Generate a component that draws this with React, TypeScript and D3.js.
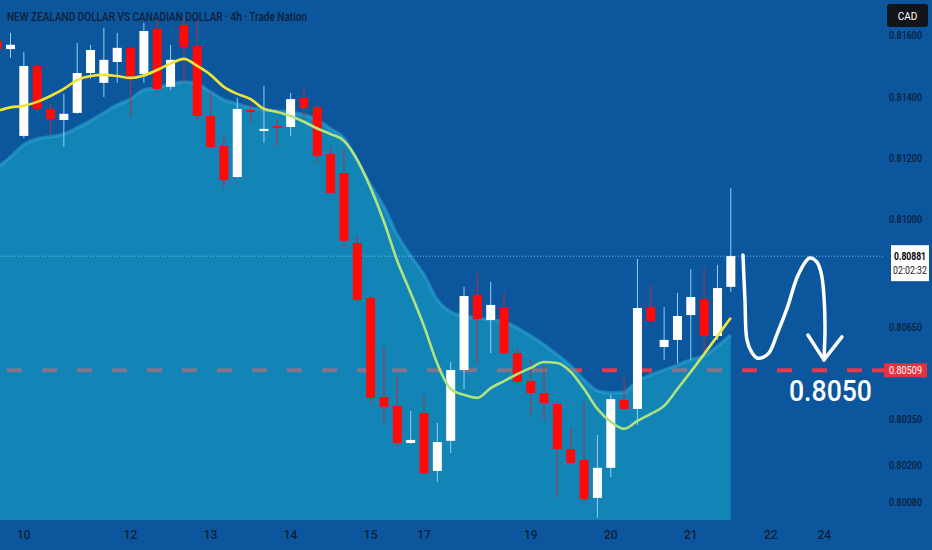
import React from "react";
import * as d3 from "d3";

const W = 932;
const H = 550;

const opens = [0.81583,0.81556,0.81273,0.81501,0.81361,0.81325,0.81348,0.81478,0.81446,0.81514,0.81560,0.81475,0.81622,0.81433,0.81635,0.81566,0.81338,0.81240,0.81139,0.81358,0.81289,0.81305,0.81302,0.81397,0.81367,0.81214,0.81152,0.80924,0.80745,0.80422,0.80393,0.80272,0.80370,0.80181,0.80279,0.80510,0.80755,0.80673,0.80712,0.80565,0.80474,0.80435,0.80399,0.80252,0.80217,0.80093,0.80191,0.80412,0.80383,0.80715,0.80585,0.80608,0.80689,0.80741,0.80621,0.80781];
const highs = [0.81602,0.81609,0.81547,0.81508,0.81377,0.81410,0.81576,0.81570,0.81625,0.81609,0.81566,0.81641,0.81658,0.81570,0.81658,0.81651,0.81416,0.81273,0.81397,0.81380,0.81436,0.81325,0.81413,0.81433,0.81374,0.81237,0.81234,0.80947,0.80751,0.80585,0.80490,0.80376,0.80429,0.80337,0.80536,0.80781,0.80826,0.80797,0.80764,0.80582,0.80543,0.80526,0.80406,0.80321,0.80406,0.80298,0.80429,0.80490,0.80872,0.80787,0.80715,0.80761,0.80839,0.80842,0.80852,0.81103];
const lows = [0.81537,0.81527,0.81266,0.81351,0.81276,0.81237,0.81345,0.81459,0.81400,0.81446,0.81335,0.81446,0.81416,0.81423,0.81446,0.81325,0.81230,0.81103,0.81136,0.81315,0.81250,0.81240,0.81273,0.81332,0.81185,0.81081,0.80911,0.80732,0.80402,0.80331,0.80262,0.80269,0.80168,0.80145,0.80239,0.80448,0.80533,0.80565,0.80559,0.80464,0.80363,0.80347,0.80096,0.80200,0.80083,0.80028,0.80161,0.80380,0.80331,0.80663,0.80543,0.80533,0.80543,0.80565,0.80608,0.80764];
const closes = [0.81556,0.81570,0.81501,0.81361,0.81328,0.81345,0.81478,0.81553,0.81521,0.81560,0.81468,0.81615,0.81426,0.81521,0.81563,0.81338,0.81237,0.81129,0.81361,0.81351,0.81296,0.81299,0.81393,0.81364,0.81208,0.81087,0.80931,0.80738,0.80419,0.80389,0.80272,0.80282,0.80174,0.80275,0.80510,0.80751,0.80676,0.80722,0.80565,0.80471,0.80435,0.80402,0.80252,0.80207,0.80089,0.80191,0.80415,0.80383,0.80712,0.80670,0.80608,0.80686,0.80748,0.80621,0.80777,0.80881];

// fast moving average (yellow/green line)
const fastMA = [0.81354,0.81366,0.81371,0.81384,0.81403,0.81426,0.81455,0.81468,0.81472,0.81468,0.81462,0.81470,0.81488,0.81508,0.81524,0.81501,0.81472,0.81433,0.81410,0.81393,0.81361,0.81351,0.81338,0.81319,0.81297,0.81279,0.81257,0.81195,0.81103,0.80993,0.80865,0.80761,0.80653,0.80530,0.80448,0.80429,0.80419,0.80451,0.80474,0.80497,0.80517,0.80536,0.80533,0.80504,0.80448,0.80383,0.80341,0.80318,0.80344,0.80367,0.80393,0.80448,0.80504,0.80562,0.80621,0.80680];
// slow moving average (filled area)
const slowMA = [0.81169,0.81204,0.81244,0.81263,0.81270,0.81279,0.81299,0.81322,0.81348,0.81374,0.81393,0.81423,0.81429,0.81442,0.81449,0.81442,0.81416,0.81390,0.81377,0.81364,0.81358,0.81354,0.81351,0.81341,0.81325,0.81296,0.81266,0.81191,0.81113,0.81041,0.80950,0.80882,0.80820,0.80738,0.80699,0.80686,0.80680,0.80673,0.80667,0.80647,0.80621,0.80592,0.80559,0.80523,0.80477,0.80442,0.80435,0.80438,0.80474,0.80494,0.80510,0.80526,0.80543,0.80556,0.80588,0.80624];

const priceTicks = [0.816, 0.814, 0.812, 0.81, 0.8065, 0.8035, 0.802, 0.8008];
const dateLabels = ["10","12","13","14","15","17","19","20","21","22","24"];
const dateIndex = [2,10,16,22,28,32,40,46,52,58,62];

const lastPrice = 0.80881;
const countdown = "02:02:32";
const targetPrice = 0.80509;
const targetText = "0.8050";
const title = "NEW ZEALAND DOLLAR VS CANADIAN DOLLAR · 4h · Trade Nation";

// hand-drawn projection arrow in (bar index, price)
const arrowIdx = [55.91,56.06,56.21,56.55,56.96,57.45,57.9,58.5,59.25,60.05,60.9,61.45,61.8,62.0,62.06,61.98];
const arrowPx = [0.80885,0.80738,0.80608,0.80569,0.80549,0.80552,0.80568,0.80631,0.80715,0.80820,0.80875,0.80862,0.80820,0.80738,0.80640,0.80543];
const headIdx = [60.78,61.98,63.33];
const headPx = [0.80624,0.80543,0.80618];

export default function App() {
  const plotRight = 885;
  const plotBottom = 520;
  const x = d3.scaleLinear().domain([0, 62]).range([-2.85, 824.2]);
  const y = d3.scaleLinear().domain([0.80021, 0.81716]).range([plotBottom, 0]);
  const bw = 9;

  const idx = d3.range(closes.length);
  const area = d3.area<number>()
    .x((i) => x(i))
    .y0(plotBottom)
    .y1((i) => y(slowMA[i]))
    .curve(d3.curveMonotoneX);
  const slowLine = d3.line<number>().x((i) => x(i)).y((i) => y(slowMA[i])).curve(d3.curveMonotoneX);
  const fastLine = d3.line<number>().x((i) => x(i)).y((i) => y(fastMA[i])).curve(d3.curveMonotoneX);
  const arrowLine = d3.line<number>().x((k) => x(arrowIdx[k])).y((k) => y(arrowPx[k])).curve(d3.curveCatmullRom);
  const headLine = d3.line<number>().x((k) => x(headIdx[k])).y((k) => y(headPx[k]));

  const bg = "#0b569d";
  const axisTxt = "#0c1f3a";
  const font = "Roboto, 'Noto Sans', sans-serif";

  return (
    <svg width={W} height={H} style={{ position: "fixed", left: 0, top: 0, display: "block" }} fontFamily={font}>
      <defs>
        <linearGradient id="maGrad" gradientUnits="userSpaceOnUse" x1={0} x2={x(55.2)} y1={0} y2={0}>
          <stop offset="0" stopColor="#f3e22f" />
          <stop offset="0.34" stopColor="#f0e336" />
          <stop offset="0.40" stopColor="#b5e57c" />
          <stop offset="0.92" stopColor="#a9e27f" />
          <stop offset="0.975" stopColor="#eee84a" />
          <stop offset="1" stopColor="#f3e22f" />
        </linearGradient>
        <clipPath id="plotClip">
          <rect x={0} y={0} width={plotRight} height={plotBottom} />
        </clipPath>
      </defs>
      <rect x={0} y={0} width={W} height={H} fill={bg} />

      <g clipPath="url(#plotClip)">
        {/* target dashed line (under the translucent area) */}
        <line x1={0} x2={plotRight} y1={y(targetPrice)} y2={y(targetPrice)}
          stroke="#e8394a" strokeWidth={4} strokeDasharray="15 20" strokeDashoffset={-7} />
        <path d={area(idx) || ""} fill="#1ab2d0" fillOpacity={0.5} />
        <path d={slowLine(idx) || ""} fill="none" stroke="#2ea6d6" strokeWidth={3.5} strokeOpacity={0.55} />
        {/* last price dotted line */}
        <line x1={0} x2={plotRight + 6} y1={y(lastPrice)} y2={y(lastPrice)}
          stroke="#7cc4f0" strokeWidth={1} strokeDasharray="1 2" />

        {/* candles */}
        {idx.map((i) => {
          const up = closes[i] >= opens[i];
          const cx = x(i);
          const top = y(Math.max(opens[i], closes[i]));
          const bot = y(Math.min(opens[i], closes[i]));
          return (
            <g key={i}>
              <line x1={cx} x2={cx} y1={y(highs[i])} y2={y(lows[i])}
                stroke={up ? "#8fd0f3" : "#b8303e"} strokeWidth={1} />
              <rect x={cx - bw / 2} y={top} width={bw} height={Math.max(bot - top, 1.5)}
                fill={up ? "#ffffff" : "#ff0a0a"} />
            </g>
          );
        })}

        <path d={fastLine(idx) || ""} fill="none" stroke="url(#maGrad)" strokeWidth={2.6} />
      </g>

      {/* projection arrow */}
      <path d={arrowLine(d3.range(arrowIdx.length)) || ""} fill="none" stroke="#ffffff" strokeWidth={3.5} strokeLinecap="round" strokeLinejoin="round" />
      <path d={headLine([0, 1, 2]) || ""} fill="none" stroke="#ffffff" strokeWidth={3.5} strokeLinecap="round" strokeLinejoin="round" />
      <text x={872} y={y(targetPrice) + 31} textAnchor="end" fill="#ffffff" fontSize={30} fontWeight={500}
        textLength={83} lengthAdjust="spacingAndGlyphs">{targetText}</text>

      {/* title */}
      <text x={7} y={21} fill="#102038" fontSize={13} fontWeight={500} textLength={300} lengthAdjust="spacingAndGlyphs">{title}</text>

      {/* right axis */}
      {priceTicks.map((p) => (
        <text key={p} x={889} y={y(p)} dy="0.35em" fill={axisTxt} fontSize={10.5} fontWeight={500}
          textLength={33} lengthAdjust="spacingAndGlyphs">{p.toFixed(5)}</text>
      ))}
      <rect x={887} y={4} width={41} height={23} rx={3} fill="#111418" />
      <text x={907.5} y={16} dy="0.35em" textAnchor="middle" fill="#ffffff" fontSize={10}>CAD</text>

      <line x1={872} x2={884} y1={y(targetPrice)} y2={y(targetPrice)} stroke="#e8394a" strokeWidth={4} />
      <rect x={884} y={y(targetPrice) - 7} width={43} height={14} fill="#e8313f" />
      <text x={905.5} y={y(targetPrice)} dy="0.35em" textAnchor="middle" fill="#ffffff" fontSize={10.5}
        textLength={33} lengthAdjust="spacingAndGlyphs">{targetPrice.toFixed(5)}</text>

      <rect x={891} y={y(lastPrice) - 11} width={38} height={36} fill="#ffffff" />
      <text x={910} y={y(lastPrice)} dy="0.35em" textAnchor="middle" fill="#000000" fontSize={10.5} fontWeight={700}
        textLength={32} lengthAdjust="spacingAndGlyphs">{lastPrice.toFixed(5)}</text>
      <text x={910} y={y(lastPrice) + 14} dy="0.35em" textAnchor="middle" fill="#1a1a1a" fontSize={10.5}
        textLength={34} lengthAdjust="spacingAndGlyphs">{countdown}</text>

      {/* bottom axis */}
      {dateLabels.map((d, k) => (
        <text key={d} x={x(dateIndex[k])} y={535} dy="0.35em" textAnchor="middle" fill={axisTxt} fontSize={12} fontWeight={500}>{d}</text>
      ))}
    </svg>
  );
}
